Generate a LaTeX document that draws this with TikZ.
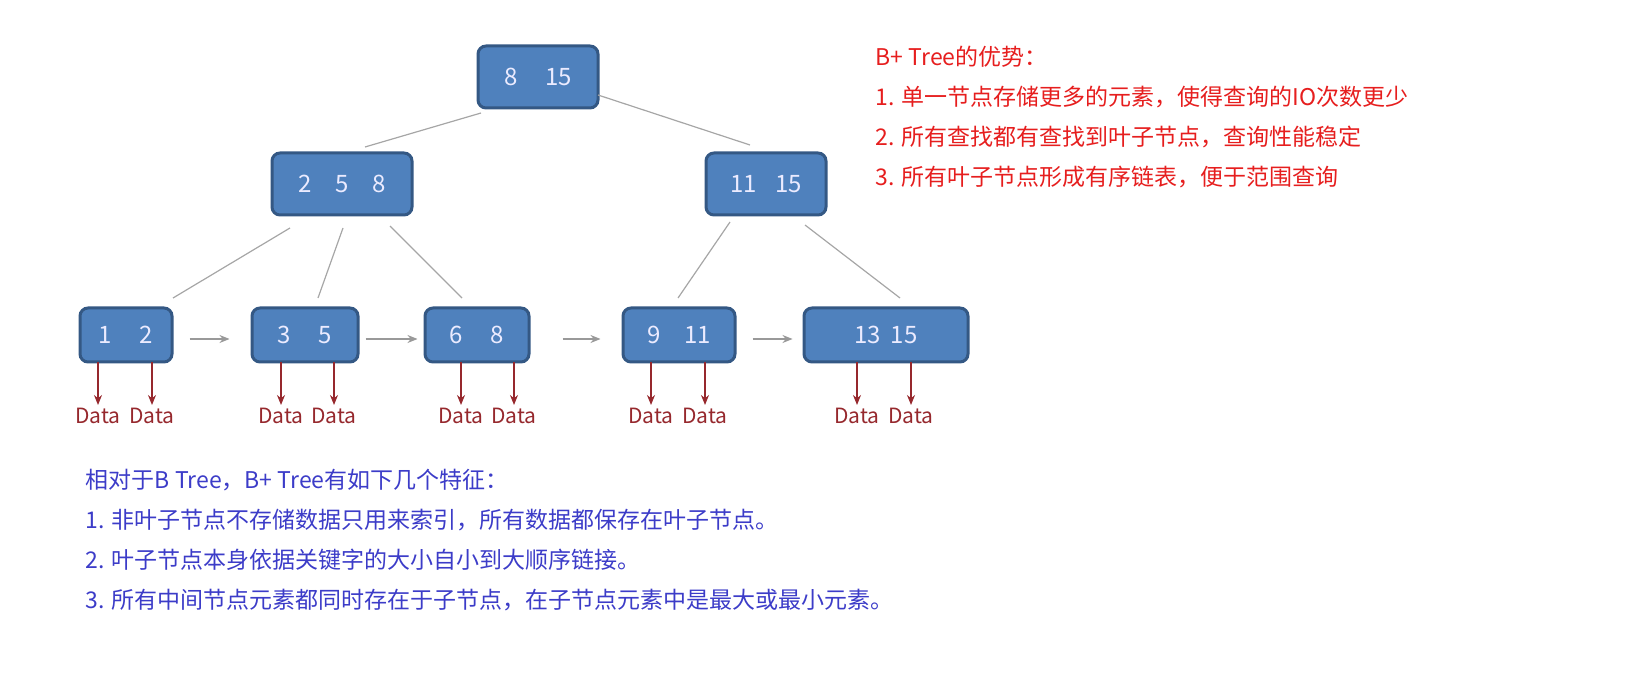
\documentclass[tikz,border=0pt]{standalone}
\usepackage{fontspec}
\setmainfont{Noto Sans CJK SC}
\usetikzlibrary{arrows.meta}
\definecolor{keyfill}{RGB}{79,129,189}
\definecolor{keyline}{RGB}{52,88,132}
\definecolor{datared}{RGB}{150,40,45}
\definecolor{notered}{RGB}{230,30,30}
\definecolor{noteblue}{RGB}{60,60,200}
\tikzset{every picture/.style={line width=0.75pt}}
\tikzset{
  keybox/.style={draw=keyline,line width=1.5pt,fill=keyfill,rounded corners=4pt,text=white!92!blue,font=\fontsize{12}{14}\selectfont,inner sep=0pt},
  treeline/.style={draw=gray!70,line width=0.6pt},
  leafarrow/.style={draw=gray!80,line width=0.6pt,-{Stealth[length=5pt,width=4pt]}},
  dataarrow/.style={draw=datared,line width=0.7pt,-{Stealth[length=5pt,width=4pt]}},
  datalabel/.style={text=datared,font=\fontsize{10.5}{12}\selectfont,inner sep=1pt,anchor=north},
  note/.style={anchor=west,inner sep=0pt,font=\fontsize{11.5}{14}\selectfont}
}

\begin{document}
\begin{tikzpicture}[x=0.5pt,y=-0.5pt]
\useasboundingbox (0,0) rectangle (1626,673);

% Key nodes
\node[keybox,minimum width=60pt,minimum height=31pt] (root) at (538,77) {8\hspace{14pt}15};
\node[keybox,minimum width=70pt,minimum height=31pt] (midl) at (342,184) {2\hspace{12pt}5\hspace{12pt}8};
\node[keybox,minimum width=60pt,minimum height=31pt] (midr) at (766,184) {11\hspace{9pt}15};
\node[keybox,minimum width=46pt,minimum height=27pt] (leafa) at (126,335) {1\hspace{14pt}2};
\node[keybox,minimum width=53pt,minimum height=27pt] (leafb) at (305,335) {3\hspace{14pt}5};
\node[keybox,minimum width=52pt,minimum height=27pt] (leafc) at (477,335) {6\hspace{14pt}8};
\node[keybox,minimum width=56pt,minimum height=27pt] (leafd) at (679,335) {9\hspace{12pt}11};
\node[keybox,minimum width=82pt,minimum height=27pt] (leafe) at (886,335) {13\hspace{5pt}15};

% Tree lines
\draw[treeline] (481,113) -- (365,147);
\draw[treeline] (598,95) -- (750,145);
\draw[treeline] (290,228) -- (173,298);
\draw[treeline] (343,228) -- (318,298);
\draw[treeline] (390,226) -- (462,298);
\draw[treeline] (730,222) -- (678,298);
\draw[treeline] (805,225) -- (900,298);

% Leaf links
\draw[leafarrow] (leafa.east) ++(8pt,-2pt) -- ++(20pt,0);
\draw[leafarrow] (leafb.east) ++(3pt,-2pt) -- ++(26pt,0);
\draw[leafarrow] (leafc.east) ++(16pt,-2pt) -- ++(19pt,0);
\draw[leafarrow] (leafd.east) ++(8pt,-2pt) -- ++(20pt,0);

% Data pointers
\foreach \leaf/\xa/\xb in {leafa/98/152,leafb/281/334,leafc/461/514,leafd/651/705,leafe/857/911}{
  \node[datalabel] (\leaf-da) at (\xa,405) {Data};
  \node[datalabel] (\leaf-db) at (\xb,405) {Data};
  \draw[dataarrow] (\xa,362) -- (\leaf-da.north);
  \draw[dataarrow] (\xb,362) -- (\leaf-db.north);
}

% Notes
\begin{scope}[every node/.style={note,text=notered}]
\node (adv0) at (875,57) {B+ Tree的优势：};
\node (adv1) at (875,97) {1. 单一节点存储更多的元素，使得查询的IO次数更少};
\node (adv2) at (875,137) {2. 所有查找都有查找到叶子节点，查询性能稳定};
\node (adv3) at (875,177) {3. 所有叶子节点形成有序链表，便于范围查询};
\end{scope}
\begin{scope}[every node/.style={note,text=noteblue}]
\node (cmp0) at (85,480) {相对于B Tree，B+ Tree有如下几个特征：};
\node (cmp1) at (85,520) {1. 非叶子节点不存储数据只用来索引，所有数据都保存在叶子节点。};
\node (cmp2) at (85,560) {2. 叶子节点本身依据关键字的大小自小到大顺序链接。};
\node (cmp3) at (85,600) {3. 所有中间节点元素都同时存在于子节点，在子节点元素中是最大或最小元素。};
\end{scope}

\end{tikzpicture}
\end{document}
